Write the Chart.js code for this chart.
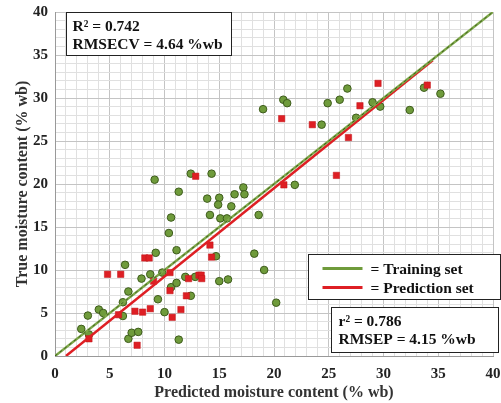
<!DOCTYPE html>
<html>
<head>
<meta charset="utf-8">
<script src="https://cdn.jsdelivr.net/npm/chart.js@4.4.1/dist/chart.umd.min.js"></script>
<style>
  html, body { margin: 0; padding: 0; background: #fff; }
  #wrap { width: 501px; height: 403px; position: relative; }
</style>
</head>
<body>
<div id="wrap"><canvas id="moistureChart"></canvas></div>
<script>
// Training set points (predicted, true)
const trainPredicted = [2.4, 3.0, 3.1, 4.0, 4.4, 6.2, 6.2, 6.4, 6.7, 6.7, 7.0, 7.6, 7.9, 8.7, 9.2, 9.4, 9.8, 10.0, 10.4, 10.6,
  10.6, 11.1, 11.1, 11.3, 11.9, 12.4, 12.8, 9.1, 11.3, 12.4, 14.3, 13.9, 14.15, 14.7, 15.0, 15.8, 15.0, 14.9, 15.1, 15.7,
  16.1, 16.4, 17.2, 17.3, 18.6, 18.2, 19.1, 20.2, 19.0, 20.85, 21.2, 21.9, 24.35, 24.9, 26.0, 26.7, 27.5, 29.0, 29.7, 32.4,
  33.7, 35.2];
const trainTrue = [3.15, 4.7, 2.5, 5.4, 5.0, 6.25, 4.65, 10.6, 7.5, 2.0, 2.7, 2.8, 9.0, 9.5, 12.0, 6.6, 9.7, 5.1, 14.3, 16.1,
  8.0, 8.5, 12.3, 1.9, 9.2, 7.0, 9.2, 20.5, 19.1, 21.2, 21.2, 18.3, 16.4, 11.6, 8.7, 8.9, 18.4, 17.6, 16.0, 16.0,
  17.4, 18.8, 19.6, 18.8, 16.4, 11.9, 10.0, 6.2, 28.7, 29.8, 29.4, 19.9, 26.9, 29.4, 29.8, 31.1, 27.7, 29.5, 29.0, 28.6,
  31.2, 30.5];

// Prediction set points (predicted, true)
const predPredicted = [3.1, 4.8, 6.0, 5.8, 7.3, 8.0, 7.5, 8.2, 8.6, 8.7, 9.0, 10.5, 10.5, 10.7, 11.5, 12.0, 12.2, 13.15, 13.35, 13.4,
  12.85, 14.15, 14.3, 20.7, 20.9, 23.5, 25.7, 26.8, 27.85, 29.5, 34.0];
const predTrue = [2.0, 9.5, 9.5, 4.8, 5.2, 5.1, 1.25, 11.4, 11.4, 5.5, 8.7, 9.7, 7.6, 4.5, 5.4, 7.0, 9.0, 9.4, 9.4, 9.0,
  20.9, 12.9, 11.5, 27.6, 19.9, 26.9, 21.0, 25.4, 29.1, 31.7, 31.5];

// fitted lines (end points)
const trainLineX = [0, 40];
const trainLineY = [0, 40];
const predLineX = [1.0, 34.5];
const predLineY = [0, 34.4];

const axisMin = 0;
const axisMax = 40;
const majorStep = 5;

const FONT = "'Liberation Serif', 'Times New Roman', serif";
const GREEN = '#6f9b3b';
const GREEN_EDGE = '#3e5c1c';
const RED = '#de1f24';

const toPoints = (xs, ys) => xs.map((x, i) => ({ x: x, y: ys[i] }));

// text boxes placed in data units through the scales
const boxesPlugin = {
  id: 'boxes',
  afterDatasetsDraw(chart) {
    const c = chart.ctx;
    const sx = chart.scales.x, sy = chart.scales.y;
    const px = v => sx.getPixelForValue(v);
    const py = v => sy.getPixelForValue(v);
    c.save();
    c.font = 'bold 15.5px ' + FONT;
    c.textBaseline = 'alphabetic';
    c.textAlign = 'left';

    function box(x0, y0, x1, y1) {
      const l = Math.round(px(x0)) + 0.5, t = Math.round(py(y0)) + 0.5;
      const r = Math.round(px(x1)) + 0.5, b = Math.round(py(y1)) + 0.5;
      c.fillStyle = '#fff';
      c.fillRect(l, t, r - l, b - t);
      c.strokeStyle = '#222';
      c.lineWidth = 1;
      c.strokeRect(l, t, r - l, b - t);
      c.fillStyle = '#111';
      return { l, t, r, b };
    }

    // R2 / RMSECV
    const b1 = box(1.0, 40, 16.1, 35.0);
    c.fillText('R² = 0.742', b1.l + 6, b1.t + 18);
    c.fillText('RMSECV = 4.64 %wb', b1.l + 6, b1.t + 36);

    // legend
    const b2 = box(23.1, 11.86, 40.6, 6.63);
    c.lineWidth = 3;
    c.strokeStyle = GREEN;
    c.beginPath(); c.moveTo(b2.l + 14, b2.t + 14); c.lineTo(b2.l + 54, b2.t + 14); c.stroke();
    c.strokeStyle = RED;
    c.beginPath(); c.moveTo(b2.l + 14, b2.t + 33); c.lineTo(b2.l + 54, b2.t + 33); c.stroke();
    c.fillText('= Training set', b2.l + 62, b2.t + 19);
    c.fillText('= Prediction set', b2.l + 62, b2.t + 38);

    // r2 / RMSEP
    const b3 = box(25.2, 5.7, 40.5, 0.47);
    c.fillText('r² = 0.786', b3.l + 7, b3.t + 18);
    c.fillText('RMSEP = 4.15 %wb', b3.l + 7, b3.t + 36);
    c.restore();
  }
};

const gridColor = ctx => (ctx.tick && ctx.tick.value % majorStep === 0) ? '#c4c4c4' : '#e0e0e0';

new Chart(document.getElementById('moistureChart'), {
  type: 'scatter',
  data: {
    datasets: [
      {
        type: 'line',
        label: 'Training fit dash',
        data: toPoints(trainLineX, trainLineY),
        borderColor: '#3b5a1a',
        borderWidth: 1,
        borderDash: [3, 3],
        pointRadius: 0,
        order: 0
      },
      {
        type: 'line',
        label: 'Training fit',
        data: toPoints(trainLineX, trainLineY),
        borderColor: '#7fa94a',
        borderWidth: 2.5,
        pointRadius: 0,
        order: 1
      },
      {
        type: 'line',
        label: 'Prediction fit',
        data: toPoints(predLineX, predLineY),
        borderColor: RED,
        borderWidth: 2.5,
        pointRadius: 0,
        order: 2
      },
      {
        label: 'Prediction set',
        data: toPoints(predPredicted, predTrue),
        pointStyle: 'rect',
        pointRadius: 4.5,
        backgroundColor: RED,
        borderColor: '#c01418',
        borderWidth: 0.5,
        order: 3
      },
      {
        label: 'Training set',
        data: toPoints(trainPredicted, trainTrue),
        pointStyle: 'circle',
        pointRadius: 3.8,
        backgroundColor: GREEN,
        borderColor: GREEN_EDGE,
        borderWidth: 1,
        order: 4
      }
    ]
  },
  options: {
    responsive: true,
    maintainAspectRatio: false,
    animation: false,
    layout: { padding: { left: 0, right: 8, top: 12, bottom: 0 } },
    plugins: {
      legend: { display: false },
      tooltip: { enabled: false }
    },
    scales: {
      x: {
        type: 'linear',
        min: axisMin,
        max: axisMax,
        afterFit: s => { s.height = 47; s.paddingLeft = 0; s.paddingRight = 0; },
        ticks: {
          stepSize: 1,
          autoSkip: false,
          maxRotation: 0,
          padding: 9,
          color: '#222',
          font: { family: FONT, size: 15, weight: 'bold' },
          callback: v => (v % majorStep === 0 ? v : '')
        },
        grid: { color: gridColor, tickLength: 0 },
        border: { color: '#999' },
        title: {
          display: true,
          text: 'Predicted moisture content (% wb)',
          color: '#333',
          font: { family: FONT, size: 16, weight: 'bold' },
          padding: { top: 2, bottom: 1 }
        }
      },
      y: {
        type: 'linear',
        min: axisMin,
        max: axisMax,
        afterFit: s => { s.width = 55; s.paddingTop = 0; s.paddingBottom = 0; },
        ticks: {
          stepSize: 1,
          autoSkip: false,
          padding: 7,
          color: '#222',
          font: { family: FONT, size: 15, weight: 'bold' },
          callback: v => (v % majorStep === 0 ? v : '')
        },
        grid: { color: gridColor, tickLength: 0 },
        border: { color: '#999' },
        title: {
          display: true,
          text: 'True moisture content (% wb)',
          color: '#333',
          font: { family: FONT, size: 16, weight: 'bold' },
          padding: { top: 13, bottom: 0 }
        }
      }
    }
  },
  plugins: [boxesPlugin]
});
</script>
</body>
</html>
